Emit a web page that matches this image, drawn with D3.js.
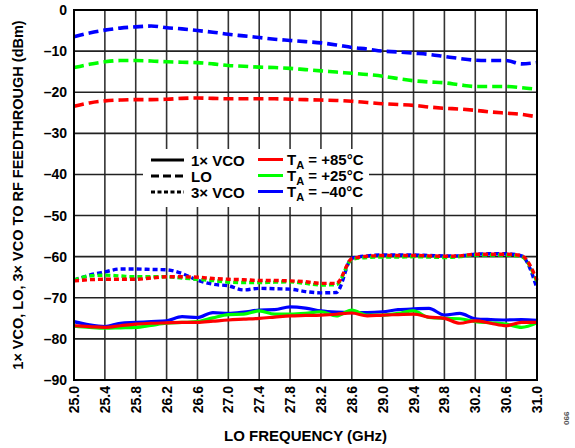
<!DOCTYPE html>
<html><head><meta charset="utf-8">
<script src="https://cdn.jsdelivr.net/npm/d3@7"></script>
<style>body{margin:0;background:#fff}svg{display:block}text{font-family:"Liberation Sans",Arial,sans-serif;font-weight:bold}</style>
</head><body><svg id="c" width="575" height="448"></svg>
<script>
const freqs = [25.0,25.2,25.4,25.6,25.8,26.0,26.2,26.4,26.6,26.8,27.0,27.2,27.4,27.6,27.8,28.0,28.2,28.4,28.6,28.8,29.0,29.2,29.4,29.6,29.8,30.0,30.2,30.4,30.6,30.8,31.0];
const xTicks = [25.0,25.4,25.8,26.2,26.6,27.0,27.4,27.8,28.2,28.6,29.0,29.4,29.8,30.2,30.6,31.0];
const yTicks = [0,-10,-20,-30,-40,-50,-60,-70,-80,-90];
// LO (dashed)
const loM40 = [-6.5,-5.6,-4.9,-4.4,-4.1,-3.9,-4.3,-4.6,-5.0,-5.4,-5.9,-6.3,-6.7,-7.1,-7.4,-7.7,-8.0,-8.5,-9.1,-9.5,-10.0,-10.2,-10.5,-10.8,-11.3,-11.8,-12.2,-12.3,-12.3,-13.1,-12.8];
const loP25 = [-14.0,-13.2,-12.6,-12.3,-12.3,-12.4,-12.6,-12.7,-12.8,-13.1,-13.5,-13.7,-13.9,-14.0,-14.2,-14.5,-14.8,-15.1,-15.4,-15.7,-16.1,-16.7,-17.2,-17.5,-17.7,-18.2,-18.6,-18.6,-18.6,-18.9,-19.3];
const loP85 = [-23.4,-22.6,-22.1,-21.9,-21.8,-21.8,-21.7,-21.5,-21.4,-21.5,-21.6,-21.6,-21.6,-21.6,-21.7,-21.8,-21.9,-22.0,-22.2,-22.5,-22.8,-23.0,-23.2,-23.6,-23.9,-24.1,-24.4,-24.8,-25.1,-25.4,-26.0];
// 3x VCO (dotted)
const vco3M40 = [-65.7,-64.5,-63.7,-63.0,-63.0,-63.1,-63.2,-64.1,-65.7,-66.7,-67.1,-68.1,-67.7,-67.8,-67.9,-68.5,-68.8,-68.7,-60.4,-59.8,-59.6,-59.6,-59.6,-59.7,-59.8,-59.8,-59.4,-59.3,-59.3,-59.8,-67.7];
const vco3P25 = [-65.7,-64.7,-64.5,-64.7,-64.9,-64.9,-64.9,-65.2,-65.5,-65.8,-66.2,-66.3,-66.3,-66.2,-66.1,-66.5,-66.9,-66.8,-60.7,-60.2,-60.1,-60.1,-60.0,-60.1,-60.2,-60.0,-59.6,-59.6,-59.6,-60.0,-66.1];
const vco3P85 = [-65.9,-65.6,-65.5,-65.5,-65.5,-65.2,-64.9,-64.9,-65.0,-65.3,-65.5,-65.6,-65.8,-65.8,-65.9,-66.1,-66.5,-66.5,-60.5,-59.9,-59.7,-59.7,-59.7,-59.8,-59.9,-59.8,-59.4,-59.4,-59.4,-59.8,-65.7];
// 1x VCO (solid)
const vco1M40 = [-75.8,-76.6,-77.0,-76.2,-76.0,-75.8,-75.6,-74.6,-74.8,-73.6,-73.8,-73.5,-73.0,-72.9,-72.2,-72.5,-73.2,-73.5,-73.6,-73.6,-73.4,-72.9,-72.7,-72.6,-74.2,-73.8,-75.1,-75.3,-75.4,-75.3,-75.5];
const vco1P25 = [-76.9,-77.2,-77.4,-77.3,-77.2,-76.7,-76.2,-76.0,-75.8,-74.9,-74.1,-74.0,-73.2,-74.0,-74.0,-73.8,-73.4,-74.4,-73.0,-74.2,-74.2,-73.8,-73.2,-74.8,-75.0,-75.1,-75.8,-76.1,-76.4,-77.2,-76.1];
const vco1P85 = [-76.8,-77.0,-77.2,-76.8,-76.4,-76.2,-76.1,-76.0,-76.0,-75.7,-75.4,-75.2,-75.0,-74.7,-74.4,-74.3,-74.2,-74.0,-73.7,-74.4,-74.2,-74.1,-74.0,-74.7,-75.0,-76.2,-75.6,-76.2,-76.8,-76.0,-76.0];

const tempLabels = ["+85°C","+25°C","–40°C"];
const tempColors = ["#ff0000","#00ff00","#0000ff"];
const styleLabels = ["1× VCO","LO","3× VCO"];

const svg = d3.select("#c");
const L=74,R=537,T=10,B=380;
const x = d3.scaleLinear().domain([25,31]).range([L,R]);
const y = d3.scaleLinear().domain([-90,0]).range([B,T]);

// grid
svg.append("g").selectAll("line").data(xTicks).join("line")
 .attr("x1",d=>x(d)).attr("x2",d=>x(d)).attr("y1",T).attr("y2",B)
 .attr("stroke","#333").attr("stroke-width",1.6);
svg.append("g").selectAll("line").data(yTicks).join("line")
 .attr("y1",d=>y(d)).attr("y2",d=>y(d)).attr("x1",L).attr("x2",R)
 .attr("stroke","#222").attr("stroke-width",1.6);

const series = [
 {v:loM40,c:2,dash:"10,5",w:3.6},{v:loP25,c:1,dash:"10,5",w:3.6},{v:loP85,c:0,dash:"10,5",w:3.6},
 {v:vco3M40,c:2,dash:"5,3",w:3.4},{v:vco3P25,c:1,dash:"5,3",w:3.4},{v:vco3P85,c:0,dash:"5,3",w:3.4},
 {v:vco1M40,c:2,dash:null,w:3.2},{v:vco1P25,c:1,dash:null,w:3.2},{v:vco1P85,c:0,dash:null,w:3.2}
];
const line = d3.line().x((d,i)=>x(freqs[i])).y(d=>y(d)).curve(d3.curveMonotoneX);
svg.append("g").selectAll("path").data(series).join("path")
 .attr("d",d=>line(d.v)).attr("fill","none")
 .attr("stroke",d=>tempColors[d.c]).attr("stroke-width",d=>d.w)
 .attr("stroke-dasharray",d=>d.dash);

// legend
svg.append("rect").attr("x",143).attr("y",149).attr("width",226).attr("height",58).attr("fill","#fff");
const ly=[160,176,192];
const dashes=[null,"8,4","4,2.5"];
styleLabels.forEach((s,i)=>{
 svg.append("line").attr("x1",151).attr("x2",184).attr("y1",ly[i]).attr("y2",ly[i])
  .attr("stroke","#000").attr("stroke-width",3).attr("stroke-dasharray",dashes[i]);
 svg.append("text").attr("x",191).attr("y",ly[i]+5.5).attr("font-size",15).text(s);
});
tempLabels.forEach((s,i)=>{
 const yy=ly[i]-0.5;
 svg.append("line").attr("x1",258).attr("x2",283).attr("y1",yy).attr("y2",yy)
  .attr("stroke",tempColors[i]).attr("stroke-width",3);
 const t=svg.append("text").attr("x",287).attr("y",yy+5).attr("font-size",15);
 t.append("tspan").text("T");
 t.append("tspan").attr("font-size",11).attr("dy",4).text("A");
 t.append("tspan").attr("dy",-4).text(" = "+s);
});

// frame
svg.append("rect").attr("x",L).attr("y",T).attr("width",R-L).attr("height",B-T)
 .attr("fill","none").attr("stroke","#000").attr("stroke-width",2);

// tick labels
svg.append("g").selectAll("text").data(yTicks).join("text")
 .attr("x",67).attr("y",d=>y(d)).attr("dy","0.36em").attr("text-anchor","end").attr("font-size",14)
 .text(d=>d===0?"0":"–"+Math.abs(d));
svg.append("g").selectAll("text").data(xTicks).join("text")
 .attr("transform",d=>`translate(${x(d)},386) rotate(-90)`).attr("dy","0.36em")
 .attr("text-anchor","end").attr("font-size",14).text(d=>d.toFixed(1));

svg.append("text").attr("x",(L+R)/2).attr("y",441).attr("text-anchor","middle").attr("font-size",15)
 .text("LO FREQUENCY (GHz)");
svg.append("text").attr("transform",`translate(23,${(T+B)/2}) rotate(-90)`).attr("text-anchor","middle")
 .attr("font-size",14.5).text("1× VCO, LO, 3× VCO TO RF FEEDTHROUGH (dBm)");
svg.append("text").attr("transform","translate(569,425) rotate(-90)").attr("font-size",8)
 .attr("font-weight","normal").attr("fill","#555").text("066");
</script></body></html>
